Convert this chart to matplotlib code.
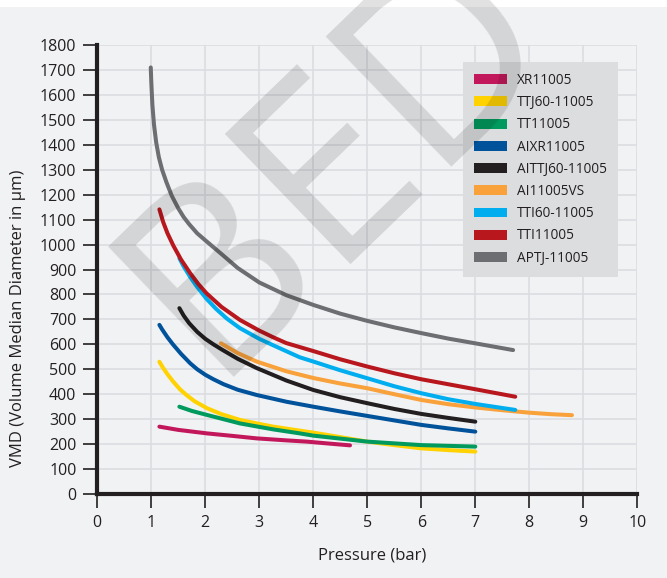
import matplotlib
matplotlib.use("Agg")
import matplotlib.pyplot as plt
from matplotlib.patches import Patch, Rectangle

plt.rcParams['font.family'] = ['Open Sans', 'DejaVu Sans']

# series: label, colour, pressure (bar), VMD (um)
labels = ["XR11005", "TTJ60-11005", "TT11005", "AIXR11005", "AITTJ60-11005",
          "AI11005VS", "TTI60-11005", "TTI11005", "APTJ-11005"]
colors = ["#c2185b", "#ffd200", "#009a5e", "#00529b", "#231f20",
          "#f9a13a", "#00aeef", "#b8171d", "#6d6e71"]

xr_x = [1.15, 1.5, 2.03, 2.5, 2.95, 3.5, 3.88, 4.3, 4.68]
xr_y = [270, 257, 243, 233, 223, 215, 210, 202, 195]

ttj60_x = [1.15, 1.22, 1.3, 1.4, 1.53, 1.65, 1.8, 2.03, 2.3, 2.64, 3.0, 3.26, 3.75, 4.0,
           4.5, 5.0, 5.5, 6.0, 6.5, 7.0]
ttj60_y = [530, 505, 480, 452, 420, 397, 372, 344, 320, 297, 281, 270, 254, 246,
           228, 210, 196, 183, 176, 170]

tt_x = [1.52, 1.75, 2.03, 2.3, 2.64, 3.0, 3.26, 3.75, 4.0, 4.5, 5.0, 5.5, 6.0, 6.5, 7.0]
tt_y = [350, 333, 317, 302, 283, 269, 259, 243, 234, 222, 210, 203, 196, 193, 190]

aixr_x = [1.15, 1.2, 1.3, 1.4, 1.55, 1.72, 1.85, 2.0, 2.15, 2.34, 2.6, 2.95, 3.5, 4.0,
          4.5, 5.0, 5.5, 6.0, 6.5, 7.0]
aixr_y = [678, 660, 628, 600, 562, 524, 500, 478, 460, 440, 418, 397, 370, 350,
          331, 313, 295, 277, 263, 250]

aittj_x = [1.52, 1.6, 1.7, 1.85, 2.0, 2.15, 2.3, 2.6, 2.95, 3.5, 4.0, 4.5, 5.0, 5.5,
           6.0, 6.5, 7.0]
aittj_y = [745, 715, 685, 650, 622, 600, 580, 542, 505, 455, 417, 388, 364, 341,
           321, 305, 290]

ai_x = [2.29, 2.6, 2.95, 3.5, 4.0, 4.5, 5.0, 5.5, 6.0, 6.5, 7.0, 7.5, 8.0, 8.4, 8.79]
ai_y = [604, 565, 531, 492, 465, 443, 424, 400, 377, 360, 347, 336, 326, 320, 316]

tti60_x = [1.52, 1.6, 1.72, 1.85, 2.02, 2.2, 2.4, 2.64, 3.0, 3.26, 3.75, 4.0, 4.5, 5.0,
           5.5, 6.0, 6.5, 7.0, 7.74]
tti60_y = [945, 912, 870, 830, 783, 742, 703, 665, 622, 596, 548, 531, 496, 464,
           432, 404, 380, 361, 337]

tti_x = [1.15, 1.22, 1.3, 1.41, 1.55, 1.72, 1.87, 2.02, 2.3, 2.64, 3.0, 3.26, 3.5, 4.0,
         4.5, 5.0, 5.5, 6.0, 6.5, 7.0, 7.74]
tti_y = [1141, 1090, 1045, 995, 940, 885, 842, 805, 750, 698, 655, 628, 605, 573,
         540, 511, 484, 460, 440, 420, 390]

aptj_x = [0.99, 1.0, 1.02, 1.05, 1.09, 1.14, 1.2, 1.28, 1.38, 1.5, 1.6, 1.7, 1.85, 2.0,
          2.3, 2.6, 3.0, 3.5, 4.0, 4.5, 5.0, 5.5, 6.0, 6.5, 7.0, 7.7]
aptj_y = [1710, 1650, 1560, 1480, 1410, 1350, 1300, 1250, 1195, 1145, 1110, 1082, 1045, 1017,
          962, 906, 848, 797, 758, 723, 694, 668, 645, 623, 604, 577]

series = [(xr_x, xr_y), (ttj60_x, ttj60_y), (tt_x, tt_y), (aixr_x, aixr_y), (aittj_x, aittj_y),
          (ai_x, ai_y), (tti60_x, tti60_y), (tti_x, tti_y), (aptj_x, aptj_y)]

x_ticks = list(range(0, 11))
y_ticks = list(range(0, 1900, 100))

bg = "#f1f2f4"
dark = "#231f20"

fig = plt.figure(figsize=(6.67, 5.78), dpi=100, facecolor="white")
fig.patches.append(Rectangle((0, 0), 1, (578 - 7) / 578, transform=fig.transFigure,
                             facecolor=bg, edgecolor="none", zorder=-10))

ax = fig.add_axes([97.3 / 667, 84 / 578, 540 / 667, 449 / 578])
ax.set_facecolor(bg)

for (xs, ys), c in zip(series, colors):
    ax.plot(xs, ys, color=c, lw=2.9, solid_capstyle="round", solid_joinstyle="round", zorder=3)

ax.set_xlim(0, 10)
ax.set_ylim(0, 1800)
ax.set_xticks(x_ticks)
ax.set_yticks(y_ticks)
ax.grid(True, color="#dcdde0", lw=1.2, zorder=0)
ax.set_axisbelow(True)
for s in ["top", "right"]:
    ax.spines[s].set_visible(False)
for s in ["left", "bottom"]:
    ax.spines[s].set_linewidth(3)
    ax.spines[s].set_color(dark)
ax.tick_params(direction="out", length=10, width=1.2, color=dark, labelsize=11.5,
               labelcolor=dark, pad=5)

fig.text(18 / 667, 1 - 318 / 578, "VMD (Volume Median Diameter in µm)", rotation=90,
         ha="center", va="center", fontsize=12, color=dark)
fig.text(372 / 667, 1 - 555 / 578, "Pressure (bar)", ha="center", va="center",
         fontsize=12, color=dark)

handles = [Patch(facecolor=c, edgecolor="none", label=l) for l, c in zip(labels, colors)]
leg = ax.legend(handles=handles, loc="upper left", bbox_to_anchor=(0.677, 0.962),
                borderaxespad=0, frameon=True, fancybox=False, facecolor="#dcdddf",
                edgecolor="none", framealpha=1, fontsize=9.8, handlelength=2.43,
                handleheight=0.75, labelspacing=0.53, handletextpad=0.74, borderpad=0.8)
for t in leg.get_texts():
    t.set_color(dark)
leg.set_zorder(4)

# watermark, baseline anchored at the lower-left of the "B"
fig.text(209 / 667, 1 - 377 / 578, "BED", rotation=44, rotation_mode="anchor",
         ha="left", va="baseline", fontsize=182, color="black", alpha=0.12, zorder=10)

fig.savefig("out.png", dpi=100, facecolor=fig.get_facecolor())
